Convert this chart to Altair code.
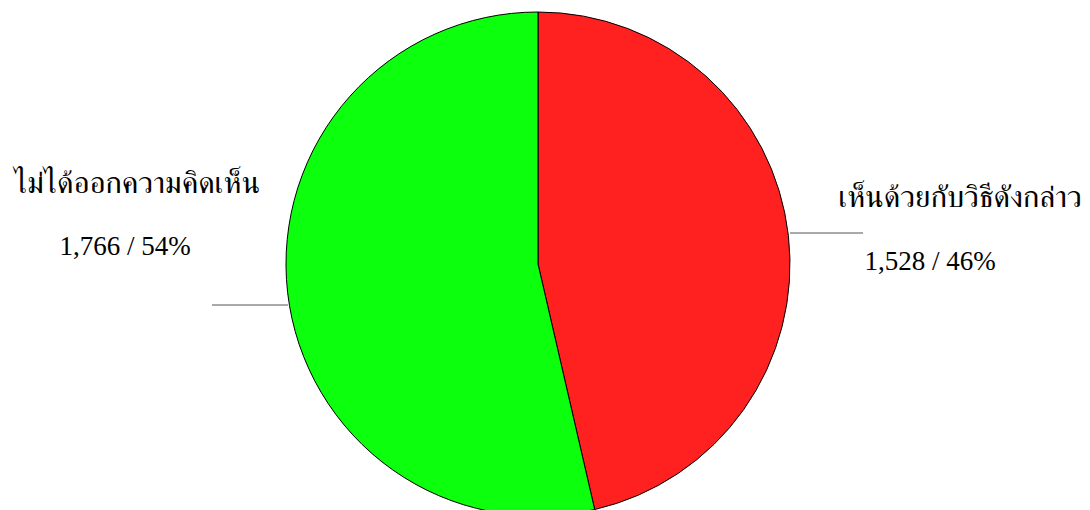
import altair as alt
import pandas as pd

# Survey answers and their counts
categories = ["เห็นด้วยกับวิธีดังกล่าว", "ไม่ได้ออกความคิดเห็น"]
counts = [1528, 1766]
colors = ["#ff2020", "#0cff0c"]

total = sum(counts)
df = pd.DataFrame({
    "category": categories,
    "count": counts,
    "idx": list(range(len(categories))),
})
df["label"] = [f"{c:,} / {round(c / total * 100)}%" for c in counts]

W, H = 1090, 510
CX, CY, R = 538, 264, 252
FONT = "Liberation Serif, FreeSerif, serif"
THAI_FONT = "FreeSerif, Liberation Serif, serif"

base = alt.Chart(df)

pie = base.mark_arc(radius=R, stroke="black", strokeWidth=1).encode(
    theta=alt.Theta("count:Q", stack=True),
    color=alt.Color("category:N", scale=alt.Scale(domain=categories, range=colors), legend=None),
    order=alt.Order("idx:Q"),
    x=alt.value(CX),
    y=alt.value(CY),
)

# label placement per slice: (name x, name baseline, value x, value baseline, leader x, x2, y)
placement = {
    categories[0]: (960, 207, 930, 270, 790, 863, 233),
    categories[1]: (137, 193, 125, 255, 212, 288, 305),
}

layers = [pie]
for cat, (nx, ny, vx, vy, lx1, lx2, ly) in placement.items():
    sub = base.transform_filter(alt.datum.category == cat)
    layers.append(
        sub.mark_text(font=THAI_FONT, fontSize=31, color="black", align="center", baseline="alphabetic")
        .encode(text="category:N", x=alt.value(nx), y=alt.value(ny))
    )
    layers.append(
        sub.mark_text(font=FONT, fontSize=27, color="black", align="center", baseline="alphabetic")
        .encode(text="label:N", x=alt.value(vx), y=alt.value(vy))
    )
    layers.append(
        sub.mark_rule(color="#555555", strokeWidth=1)
        .encode(x=alt.value(lx1), x2=alt.value(lx2), y=alt.value(ly))
    )

chart = (
    alt.layer(*layers)
    .properties(width=W, height=H, padding=0, autosize="none", background="white")
    .configure_view(strokeWidth=0)
)

chart.save("out.html", embed_options={"renderer": "svg", "actions": False})
